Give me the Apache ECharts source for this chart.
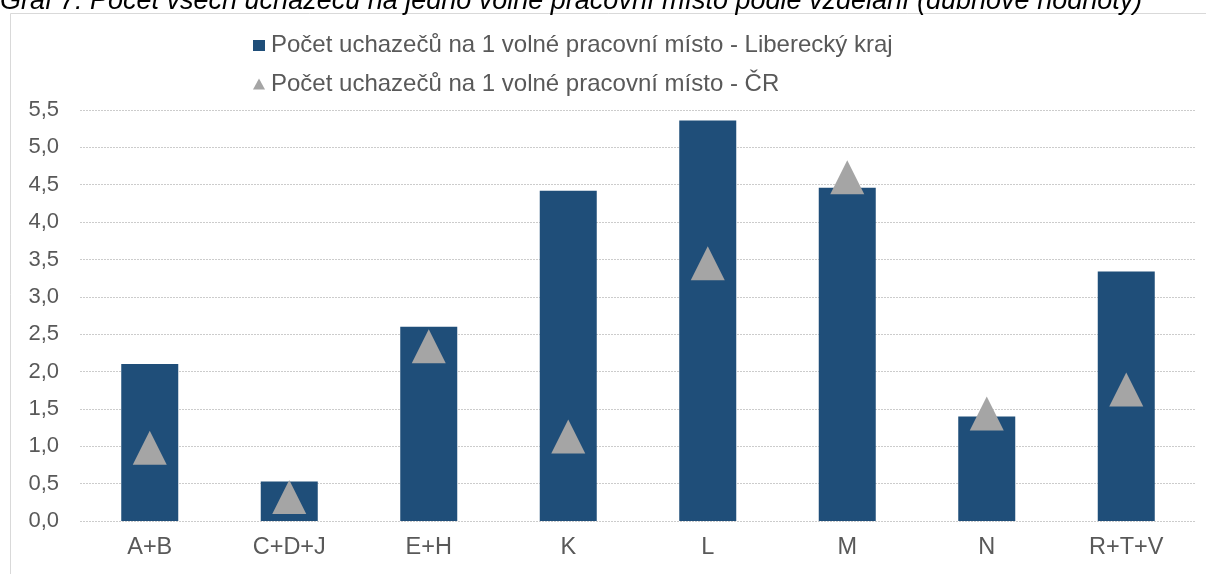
<!DOCTYPE html>
<html>
<head>
<meta charset="utf-8">
<script src="https://cdn.jsdelivr.net/npm/echarts@6/dist/echarts.min.js"></script>
<style>
html,body{margin:0;padding:0;background:#fff;}
#c{width:1206px;height:574px;}
</style>
</head>
<body>
<div id="c"></div>
<script>
var titleText = 'Graf 7: Počet všech uchazečů na jedno volné pracovní místo podle vzdělání (dubnové hodnoty)';
var categories = ['A+B', 'C+D+J', 'E+H', 'K', 'L', 'M', 'N', 'R+T+V'];
var seriesNames = ['Počet uchazečů na 1 volné pracovní místo - Liberecký kraj', 'Počet uchazečů na 1 volné pracovní místo - ČR'];
var liberecValues = [2.10, 0.53, 2.60, 4.42, 5.36, 4.46, 1.40, 3.34];
var crValues = [0.98, 0.32, 2.34, 1.13, 3.45, 4.60, 1.44, 1.76];

var font = '"Liberation Sans", Arial, sans-serif';
var chart = echarts.init(document.getElementById('c'), null, {renderer: 'canvas'});
chart.setOption({
  animation: false,
  backgroundColor: '#ffffff',
  title: {
    text: titleText,
    left: 0,
    top: -12,
    padding: 0,
    textStyle: {fontFamily: font, fontSize: 27, fontStyle: 'italic', fontWeight: 'normal', color: '#000000'}
  },
  graphic: [{
    type: 'rect',
    shape: {x: 10.5, y: 13.5, width: 1400, height: 800},
    style: {fill: 'none', stroke: '#d9d9d9', lineWidth: 1},
    silent: true,
    z: -1
  }],
  legend: {
    orient: 'vertical',
    left: 253,
    top: 33.5,
    padding: 0,
    itemGap: 14.5,
    itemWidth: 12,
    itemHeight: 11,
    textStyle: {fontFamily: font, fontSize: 24, color: '#595959', lineHeight: 24, padding: [0, 0, 0, 1]},
    data: [
      {name: seriesNames[0], icon: 'rect'},
      {name: seriesNames[1], icon: 'triangle'}
    ]
  },
  grid: {left: 80, right: 10, top: 110, bottom: 53, containLabel: false},
  xAxis: {
    type: 'category',
    data: categories,
    axisLine: {show: false},
    axisTick: {show: false},
    axisLabel: {fontFamily: font, fontSize: 23.5, color: '#595959', margin: 15}
  },
  yAxis: {
    type: 'value',
    min: 0,
    max: 5.5,
    interval: 0.5,
    axisLine: {show: false},
    axisTick: {show: false},
    axisLabel: {
      fontFamily: font, fontSize: 22, color: '#595959', margin: 21,
      formatter: function (v) { return v.toFixed(1).replace('.', ','); }
    },
    splitLine: {lineStyle: {color: '#cccccc', type: [2, 1], width: 1}}
  },
  series: [
    {
      name: seriesNames[0],
      type: 'bar',
      data: liberecValues,
      barWidth: 57,
      itemStyle: {color: '#1f4e79'}
    },
    {
      name: seriesNames[1],
      type: 'scatter',
      data: crValues,
      symbol: 'triangle',
      symbolSize: [34, 34],
      itemStyle: {color: '#a5a5a5', opacity: 1},
      z: 3
    }
  ]
});
</script>
</body>
</html>
